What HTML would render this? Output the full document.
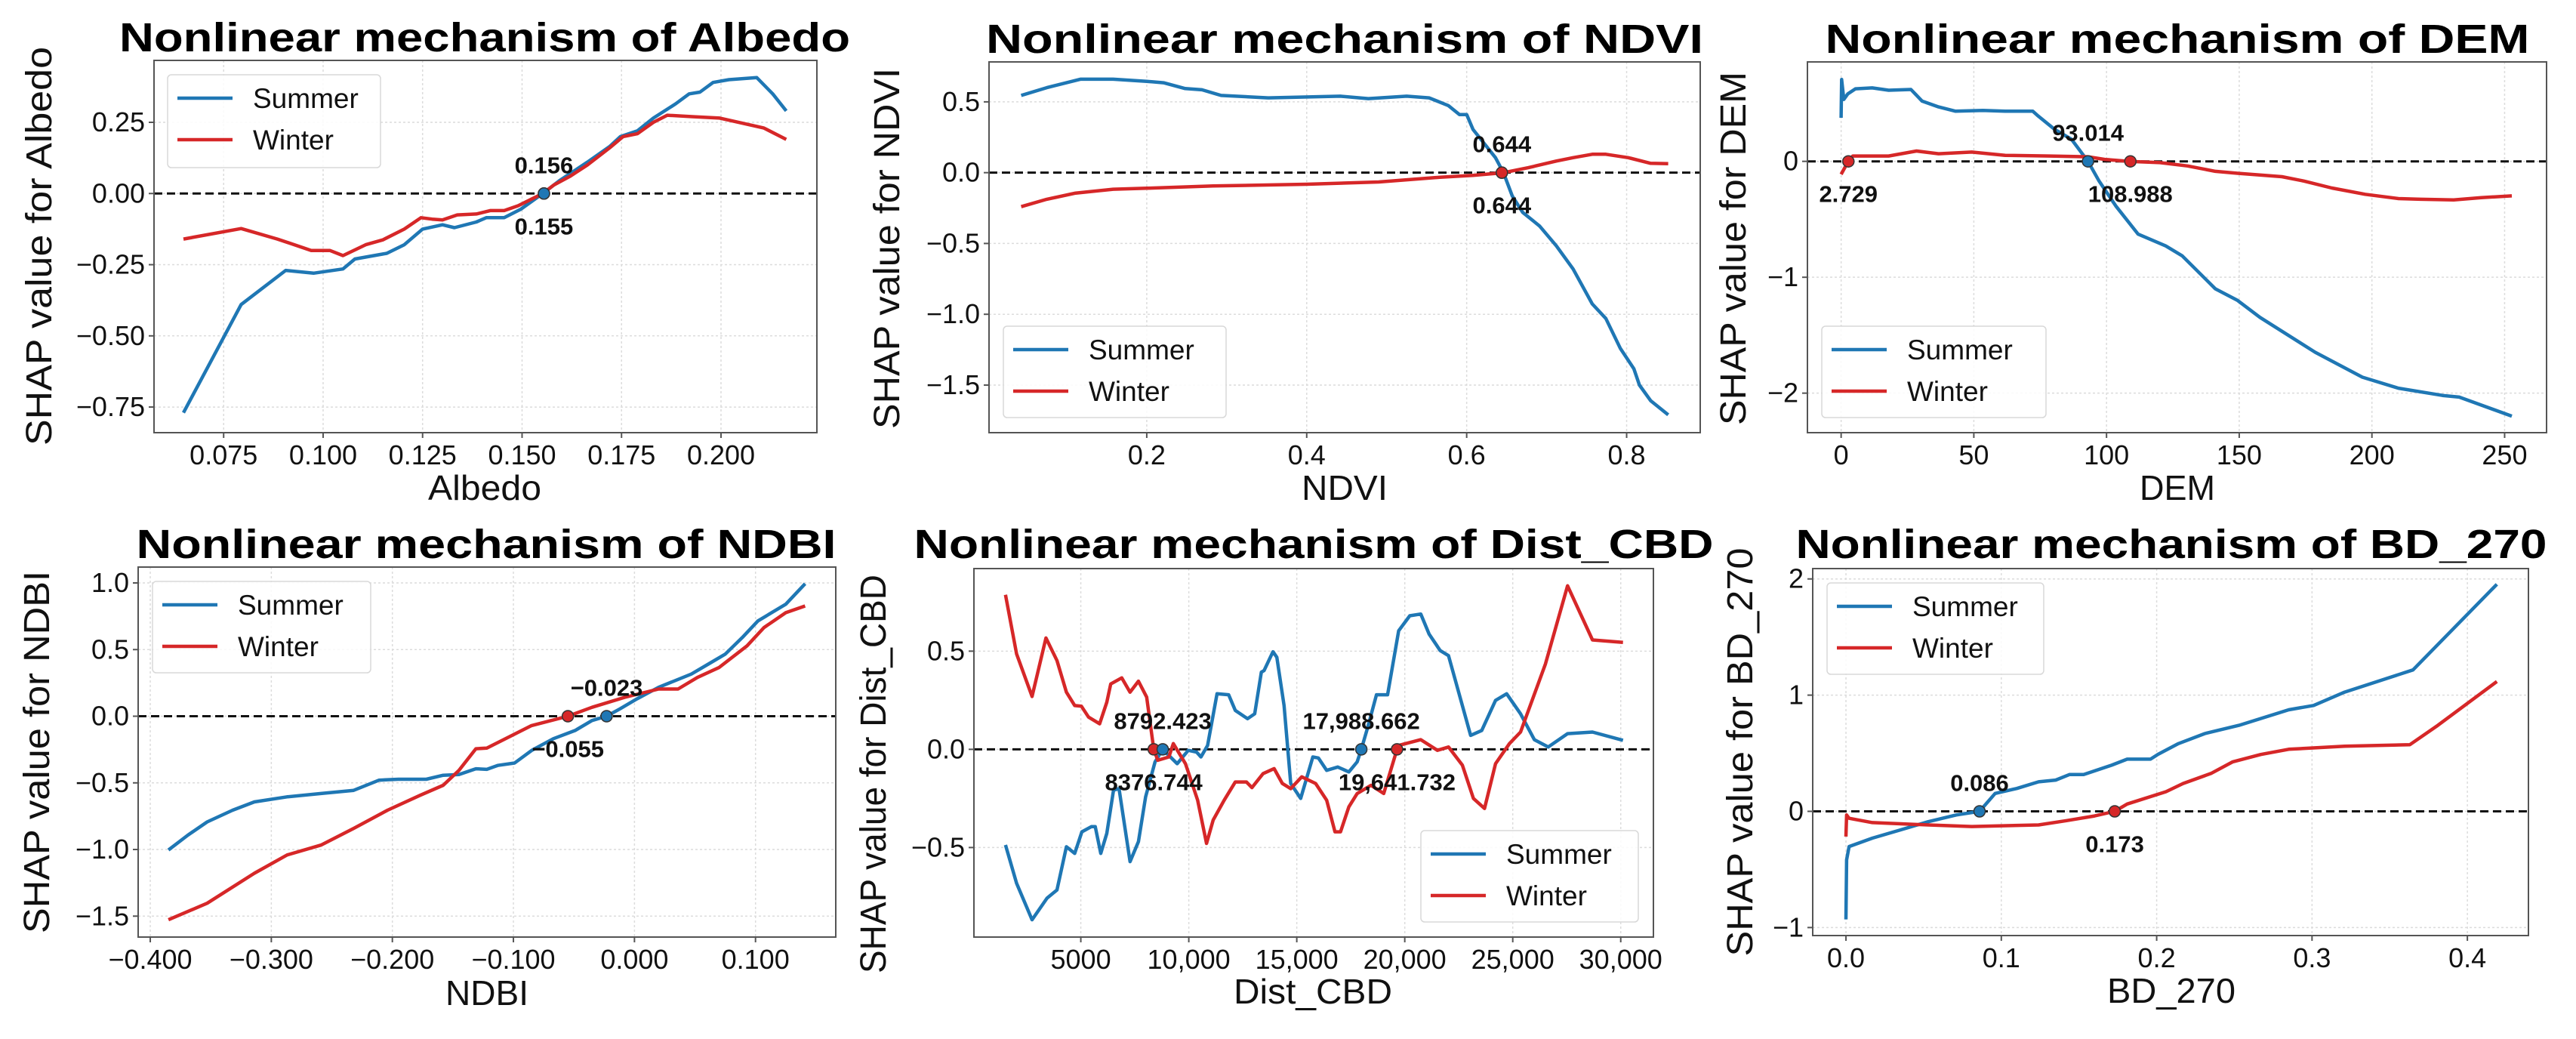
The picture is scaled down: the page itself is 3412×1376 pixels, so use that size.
<!DOCTYPE html>
<html><head><meta charset="utf-8"><style>
html,body{margin:0;padding:0;background:#fff;}
svg{display:block;}
text{font-family:"Liberation Sans",sans-serif;}
</style></head>
<body>
<svg id="fig" width="3412" height="1376" viewBox="0 0 3412 1376" xmlns="http://www.w3.org/2000/svg"></svg>
<script>
// ===== Data: Albedo =====
const albedoSummerX=[0.0649,0.0794,0.0906,0.0976,0.105,0.108,0.116,0.1204,0.125,0.130,0.133,0.1385,0.141,0.1455,0.1497,0.1552,0.1594,0.1664,0.172,0.1747,0.179,0.183,0.1886,0.192,0.1947,0.198,0.202,0.209,0.213,0.2164];
const albedoSummerY=[-0.77,-0.39,-0.27,-0.28,-0.265,-0.23,-0.21,-0.18,-0.125,-0.11,-0.12,-0.10,-0.085,-0.085,-0.055,0,0.045,0.11,0.165,0.2,0.22,0.265,0.315,0.35,0.356,0.39,0.40,0.407,0.35,0.29];
const albedoWinterX=[0.0649,0.0794,0.0885,0.097,0.1017,0.105,0.1107,0.115,0.1204,0.1246,0.1274,0.130,0.1337,0.1385,0.142,0.1455,0.149,0.1552,0.158,0.162,0.1664,0.172,0.1754,0.179,0.183,0.1865,0.1928,0.1997,0.2108,0.2164];
const albedoWinterY=[-0.16,-0.123,-0.16,-0.20,-0.20,-0.218,-0.18,-0.163,-0.125,-0.085,-0.09,-0.093,-0.075,-0.072,-0.06,-0.06,-0.043,0,0.03,0.06,0.1,0.16,0.2,0.21,0.25,0.275,0.27,0.265,0.23,0.19];
const albedoXTicks=[0.075,0.100,0.125,0.150,0.175,0.200];
const albedoXTickLabels=["0.075","0.100","0.125","0.150","0.175","0.200"];
const albedoYTicks=[-0.75,-0.5,-0.25,0,0.25];
const albedoYTickLabels=["\u22120.75","\u22120.50","\u22120.25","0.00","0.25"];
const albedoCrossX=[0.1555,0.1555];
const albedoCrossLabels=["0.156","0.155"];
// ===== Data: NDVI =====
const ndviSummerX=[0.043,0.075,0.117,0.158,0.2,0.221,0.248,0.269,0.293,0.352,0.387,0.442,0.477,0.525,0.553,0.577,0.591,0.6,0.608,0.636,0.646,0.657,0.67,0.691,0.712,0.733,0.757,0.774,0.792,0.809,0.816,0.83,0.852];
const ndviSummerY=[0.545,0.6,0.66,0.66,0.645,0.635,0.594,0.585,0.545,0.528,0.533,0.54,0.523,0.54,0.528,0.474,0.41,0.41,0.305,0.106,0,-0.164,-0.28,-0.376,-0.516,-0.68,-0.927,-1.03,-1.24,-1.385,-1.5,-1.61,-1.71];
const ndviWinterX=[0.043,0.075,0.11,0.158,0.2,0.283,0.4,0.49,0.56,0.608,0.646,0.677,0.712,0.733,0.757,0.774,0.802,0.83,0.852];
const ndviWinterY=[-0.24,-0.188,-0.145,-0.117,-0.11,-0.094,-0.082,-0.066,-0.035,-0.019,0,0.035,0.082,0.106,0.13,0.13,0.106,0.066,0.063];
const ndviXTicks=[0.2,0.4,0.6,0.8];
const ndviXTickLabels=["0.2","0.4","0.6","0.8"];
const ndviYTicks=[-1.5,-1.0,-0.5,0,0.5];
const ndviYTickLabels=["\u22121.5","\u22121.0","\u22120.5","0.0","0.5"];
const ndviCrossX=[0.644,0.644];
const ndviCrossLabels=["0.644","0.644"];
// ===== Data: DEM =====
const demSummerX=[0,0.2,1,2.5,5.4,11.7,17.9,26.3,30.5,36.7,43,53.4,61.8,72.2,74.3,80.5,86.8,93,97.2,103.5,111.9,122.3,128.5,141,149.4,157.8,178.6,196.4,210,226.6,232.9,252.7];
const demSummerY=[0.376,0.706,0.534,0.582,0.626,0.634,0.614,0.62,0.52,0.47,0.433,0.44,0.433,0.433,0.39,0.275,0.19,0,-0.17,-0.385,-0.628,-0.73,-0.815,-1.10,-1.2,-1.346,-1.647,-1.862,-1.957,-2.02,-2.034,-2.198];
const demWinterX=[0,2.7,4.4,11.7,17.9,28.4,36.7,49.2,61.8,78.5,93,99.3,108.7,120.2,130.6,141,149.4,166.1,174.4,184.9,197.4,210,218.3,230.8,241.2,252.7];
const demWinterY=[-0.112,0,0.046,0.046,0.046,0.089,0.066,0.08,0.052,0.046,0.04,0.017,0,-0.011,-0.04,-0.086,-0.103,-0.132,-0.17,-0.23,-0.284,-0.321,-0.327,-0.333,-0.313,-0.298];
const demXTicks=[0,50,100,150,200,250];
const demXTickLabels=["0","50","100","150","200","250"];
const demYTicks=[-2,-1,0];
const demYTickLabels=["\u22122","\u22121","0"];
const demCrossX=[2.729,93.014,108.988];
const demCrossLabels=["2.729","93.014","108.988"];
// ===== Data: NDBI =====
const ndbiSummerX=[-0.385,-0.369,-0.353,-0.332,-0.314,-0.287,-0.259,-0.232,-0.211,-0.195,-0.172,-0.158,-0.145,-0.131,-0.122,-0.113,-0.099,-0.085,-0.067,-0.049,-0.035,-0.023,-0.012,0.002,0.02,0.047,0.061,0.075,0.089,0.102,0.125,0.141];
const ndbiSummerY=[-1.004,-0.893,-0.793,-0.705,-0.643,-0.605,-0.58,-0.556,-0.48,-0.473,-0.473,-0.443,-0.438,-0.394,-0.399,-0.369,-0.351,-0.257,-0.169,-0.107,-0.032,0,0.055,0.13,0.217,0.316,0.391,0.466,0.59,0.715,0.84,0.994];
const ndbiWinterX=[-0.385,-0.353,-0.314,-0.287,-0.259,-0.232,-0.204,-0.177,-0.158,-0.145,-0.131,-0.122,-0.104,-0.085,-0.055,-0.035,-0.008,0.02,0.036,0.052,0.07,0.093,0.107,0.125,0.141];
const ndbiWinterY=[-1.527,-1.403,-1.178,-1.041,-0.967,-0.842,-0.705,-0.593,-0.518,-0.406,-0.244,-0.239,-0.157,-0.07,0,0.067,0.142,0.204,0.204,0.291,0.366,0.528,0.665,0.777,0.827];
const ndbiXTicks=[-0.4,-0.3,-0.2,-0.1,0,0.1];
const ndbiXTickLabels=["\u22120.400","\u22120.300","\u22120.200","\u22120.100","0.000","0.100"];
const ndbiYTicks=[-1.5,-1.0,-0.5,0,0.5,1.0];
const ndbiYTickLabels=["\u22121.5","\u22121.0","\u22120.5","0.0","0.5","1.0"];
const ndbiCrossX=[-0.023,-0.055];
const ndbiCrossLabels=["\u22120.023","\u22120.055"];
// ===== Data: Dist_CBD =====
const cbdSummerX=[1513,2026,2744,3436,3897,4333,4718,5051,5487,5667,5923,6205,6513,6769,7282,7667,8000,8436,8792,9462,9974,10359,10564,10872,11308,11846,12154,12718,13051,13359,13487,13897,14077,14410,14718,15179,15744,16000,16385,16897,17410,17795,17989,18308,18692,19205,19718,20231,20744,21128,21641,22026,23051,23564,24205,24718,25359,26000,26641,27538,28692,30103];
const cbdSummerY=[-0.487,-0.682,-0.868,-0.758,-0.716,-0.496,-0.53,-0.42,-0.394,-0.394,-0.53,-0.428,-0.208,-0.2,-0.572,-0.47,-0.242,-0.064,0,-0.073,-0.005,-0.014,-0.039,0.02,0.283,0.278,0.198,0.156,0.181,0.393,0.401,0.497,0.469,0.223,-0.174,-0.25,-0.039,-0.044,-0.107,-0.09,-0.115,-0.064,0,0.122,0.278,0.278,0.604,0.68,0.689,0.587,0.503,0.477,0.071,0.096,0.249,0.283,0.181,0.049,0.012,0.08,0.088,0.046];
const cbdWinterX=[1513,2026,2744,3385,3897,4333,4718,5026,5359,5872,6205,6385,6897,7282,7667,8051,8377,8564,9077,9282,9846,10410,10821,11128,11641,12154,12667,12923,13436,13949,14333,14718,15231,15872,16385,16769,17026,17410,17795,18436,19026,19642,19718,20744,21513,22026,22667,23179,23692,24205,24846,25359,26513,27538,28692,30103];
const cbdWinterY=[0.787,0.486,0.269,0.567,0.452,0.291,0.223,0.22,0.164,0.13,0.24,0.333,0.364,0.291,0.347,0.266,0,-0.056,-0.039,0.029,-0.073,-0.259,-0.479,-0.36,-0.259,-0.166,-0.166,-0.195,-0.124,-0.098,-0.174,-0.2,-0.14,-0.174,-0.259,-0.42,-0.42,-0.293,-0.225,-0.183,-0.225,0,0.02,0.049,-0.005,0.012,-0.081,-0.25,-0.301,-0.073,0.029,0.088,0.435,0.833,0.557,0.545];
const cbdXTicks=[5000,10000,15000,20000,25000,30000];
const cbdXTickLabels=["5000","10,000","15,000","20,000","25,000","30,000"];
const cbdYTicks=[-0.5,0,0.5];
const cbdYTickLabels=["\u22120.5","0.0","0.5"];
const cbdCrossX=[8376.744,8792.423,17988.662,19641.732];
const cbdCrossLabels=["8376.744","8792.423","17,988.662","19,641.732"];
// ===== Data: BD_270 =====
const bdSummerX=[0,0.0004,0.002,0.017,0.035,0.053,0.071,0.086,0.096,0.11,0.124,0.135,0.144,0.153,0.171,0.181,0.196,0.201,0.214,0.231,0.253,0.285,0.301,0.321,0.365,0.419];
const bdSummerY=[-0.93,-0.417,-0.303,-0.231,-0.16,-0.089,-0.031,0,0.154,0.197,0.254,0.269,0.317,0.317,0.397,0.449,0.449,0.491,0.583,0.669,0.74,0.874,0.911,1.026,1.217,1.954];
const bdWinterX=[0,0.0004,0.002,0.017,0.053,0.081,0.124,0.142,0.16,0.173,0.181,0.206,0.217,0.235,0.249,0.267,0.285,0.321,0.363,0.381,0.419];
const bdWinterY=[-0.217,-0.031,-0.06,-0.097,-0.117,-0.131,-0.117,-0.08,-0.04,0,0.063,0.169,0.24,0.326,0.426,0.489,0.534,0.56,0.574,0.74,1.117];
const bdXTicks=[0,0.1,0.2,0.3,0.4];
const bdXTickLabels=["0.0","0.1","0.2","0.3","0.4"];
const bdYTicks=[-1,0,1,2];
const bdYTickLabels=["\u22121","0","1","2"];
const bdCrossX=[0.086,0.173];
const bdCrossLabels=["0.086","0.173"];

const BLUE="#1f77b4", RED="#d62728";
const NS="http://www.w3.org/2000/svg";
const fig=document.getElementById("fig");
function el(tag,attrs,parent){const e=document.createElementNS(NS,tag);for(const k in attrs)e.setAttribute(k,attrs[k]);(parent||fig).appendChild(e);return e;}

const panels=[
 {key:"albedo",L:204,R:1082,T:80,B:573,x0:0.0575,x1:0.2241,y0:-0.84,y1:0.4675,
  sx:albedoSummerX,sy:albedoSummerY,wx:albedoWinterX,wy:albedoWinterY,
  xt:albedoXTicks,xtl:albedoXTickLabels,yt:albedoYTicks,ytl:albedoYTickLabels,
  cx:albedoCrossX,cl:albedoCrossLabels,cs:["winter","summer"],cp:["above","below"],
  title:"Nonlinear mechanism of Albedo",tx:642,tw:968,ty:68,
  xl:"Albedo",xlx:642,xly:662,xlw:150,yl:"SHAP value for Albedo",ylx:51,yly:326,yll:528,
  leg:[222,99,282,123]},
 {key:"ndvi",L:1310,R:2252,T:82,B:573,x0:0.0028,x1:0.892,y0:-1.836,y1:0.782,
  sx:ndviSummerX,sy:ndviSummerY,wx:ndviWinterX,wy:ndviWinterY,
  xt:ndviXTicks,xtl:ndviXTickLabels,yt:ndviYTicks,ytl:ndviYTickLabels,
  cx:ndviCrossX,cl:ndviCrossLabels,cs:["summer","winter"],cp:["above","below"],
  title:"Nonlinear mechanism of NDVI",tx:1781,tw:950,ty:70,
  xl:"NDVI",xlx:1781,xly:662,xlw:114,yl:"SHAP value for NDVI",ylx:1174,yly:329,yll:478,
  leg:[1329,432,295,121]},
 {key:"dem",L:2394,R:3373,T:82,B:573,x0:-12.7,x1:265.8,y0:-2.341,y1:0.858,
  sx:demSummerX,sy:demSummerY,wx:demWinterX,wy:demWinterY,
  xt:demXTicks,xtl:demXTickLabels,yt:demYTicks,ytl:demYTickLabels,
  cx:demCrossX,cl:demCrossLabels,cs:["winter","summer","winter"],cp:["below","above","below"],
  title:"Nonlinear mechanism of DEM",tx:2884,tw:933,ty:70,
  xl:"DEM",xlx:2884,xly:662,xlw:100,yl:"SHAP value for DEM",ylx:2295,yly:329,yll:468,
  leg:[2413,432,297,121]},
 {key:"ndbi",L:183,R:1107,T:751,B:1241,x0:-0.410,x1:0.1663,y0:-1.657,y1:1.119,
  sx:ndbiSummerX,sy:ndbiSummerY,wx:ndbiWinterX,wy:ndbiWinterY,
  xt:ndbiXTicks,xtl:ndbiXTickLabels,yt:ndbiYTicks,ytl:ndbiYTickLabels,
  cx:ndbiCrossX,cl:ndbiCrossLabels,cs:["summer","winter"],cp:["above","below"],
  title:"Nonlinear mechanism of NDBI",tx:644,tw:927,ty:739,
  xl:"NDBI",xlx:645,xly:1331,xlw:110,yl:"SHAP value for NDBI",ylx:48,yly:996,yll:480,
  leg:[202,770,289,121]},
 {key:"cbd",L:1290,R:2190,T:753,B:1241,x0:51,x1:31513,y0:-0.956,y1:0.9205,
  sx:cbdSummerX,sy:cbdSummerY,wx:cbdWinterX,wy:cbdWinterY,
  xt:cbdXTicks,xtl:cbdXTickLabels,yt:cbdYTicks,ytl:cbdYTickLabels,
  cx:cbdCrossX,cl:cbdCrossLabels,cs:["winter","summer","summer","winter"],cp:["below","above","above","below"],
  title:"Nonlinear mechanism of Dist_CBD",tx:1740,tw:1059,ty:739,
  xl:"Dist_CBD",xlx:1739,xly:1329,xlw:210,yl:"SHAP value for Dist_CBD",ylx:1156,yly:1025,yll:528,
  leg:[1882,1100,288,121]},
 {key:"bd270",L:2401,R:3349,T:753,B:1239,x0:-0.0214,x1:0.4393,y0:-1.069,y1:2.089,
  sx:bdSummerX,sy:bdSummerY,wx:bdWinterX,wy:bdWinterY,
  xt:bdXTicks,xtl:bdXTickLabels,yt:bdYTicks,ytl:bdYTickLabels,
  cx:bdCrossX,cl:bdCrossLabels,cs:["summer","winter"],cp:["above","below"],
  title:"Nonlinear mechanism of BD_270",tx:2876,tw:995,ty:739,
  xl:"BD_270",xlx:2876,xly:1328,xlw:170,yl:"SHAP value for BD_270",ylx:2304,yly:996,yll:541,
  leg:[2420,772,287,121]}
];

function interpY(xs,ys,x){
  for(let i=0;i<xs.length-1;i++){if(x>=xs[i]&&x<=xs[i+1]){const t=(x-xs[i])/((xs[i+1]-xs[i])||1);return ys[i]+t*(ys[i+1]-ys[i]);}}
  return 0;
}

panels.forEach(p=>{
  const X=v=>p.L+(v-p.x0)/(p.x1-p.x0)*(p.R-p.L);
  const Y=v=>p.B-(v-p.y0)/(p.y1-p.y0)*(p.B-p.T);
  const g=el("g",{});
  
  

  // grid
  p.xt.forEach(v=>{const l=el("line",{x1:X(v),x2:X(v),y1:p.T,y2:p.B,stroke:"#dcdcdc","stroke-width":1.5,"stroke-dasharray":"3,3"},g);
    
    });
  p.yt.forEach(v=>{const l=el("line",{x1:p.L,x2:p.R,y1:Y(v),y2:Y(v),stroke:"#dcdcdc","stroke-width":1.5,"stroke-dasharray":"3,3"},g);
    
    });

  // zero line
  const z=el("line",{x1:p.L,x2:p.R,y1:Y(0),y2:Y(0),stroke:"#111","stroke-width":3,"stroke-dasharray":"11,6"},g);
  
  

  // series
  const mkLine=(xs,ys,col,name)=>{
    const d=xs.map((v,i)=>(i?"L":"M")+X(v).toFixed(1)+","+Y(ys[i]).toFixed(1)).join(" ");
    const pa=el("path",{d:d,fill:"none",stroke:col,"stroke-width":4.5,"stroke-linejoin":"round"},g);
    
    
  };
  mkLine(p.sx,p.sy,BLUE,"summer-line");
  mkLine(p.wx,p.wy,RED,"winter-line");

  // crossings
  p.cx.forEach((v,i)=>{
    const col=p.cs[i]==="summer"?BLUE:RED;
    const cy=Y(0);
    const c=el("circle",{cx:X(v),cy:cy,r:7.5,fill:col,stroke:"#333","stroke-width":1.5},g);
    
    
    const t=el("text",{x:X(v),y:p.cp[i]==="above"?cy-27:cy+54,"text-anchor":"middle","font-size":31,"font-weight":"bold",fill:"#111"},g);
    t.textContent=p.cl[i];
    
    
  });

  // spines
  const r=el("rect",{x:p.L,y:p.T,width:p.R-p.L,height:p.B-p.T,fill:"none",stroke:"#555","stroke-width":2},g);
  
  

  // ticks
  p.xt.forEach((v,i)=>{
    el("line",{x1:X(v),x2:X(v),y1:p.B,y2:p.B+7,stroke:"#555","stroke-width":2},g);
    const t=el("text",{x:X(v),y:p.B+42,"text-anchor":"middle","font-size":36,fill:"#111"},g);
    t.textContent=p.xtl[i];
    
    
  });
  p.yt.forEach((v,i)=>{
    el("line",{x1:p.L-7,x2:p.L,y1:Y(v),y2:Y(v),stroke:"#555","stroke-width":2},g);
    const t=el("text",{x:p.L-12,y:Y(v)+12,"text-anchor":"end","font-size":36,fill:"#111"},g);
    t.textContent=p.ytl[i];
    
    
  });

  // title
  const ti=el("text",{x:p.tx,y:p.ty,"text-anchor":"middle","font-size":54,"font-weight":"bold",fill:"#000",textLength:p.tw,lengthAdjust:"spacingAndGlyphs"},g);
  ti.textContent=p.title;
  
  

  // x label
  const xl=el("text",{x:p.xlx,y:p.xly,"text-anchor":"middle","font-size":46,fill:"#111",textLength:p.xlw,lengthAdjust:"spacingAndGlyphs"},g);
  xl.textContent=p.xl;
  
  

  // y label
  const yl=el("text",{x:0,y:0,"text-anchor":"middle","font-size":48,fill:"#111",textLength:p.yll,lengthAdjust:"spacingAndGlyphs",transform:"translate("+(p.ylx+17)+","+p.yly+") rotate(-90)"},g);
  yl.textContent=p.yl;
  
  

  // legend
  const [lx,ly,lw,lh]=p.leg;
  const lg=el("g",{},g);
  
  
  el("rect",{x:lx,y:ly,width:lw,height:lh,rx:5,fill:"#fff","fill-opacity":0.85,stroke:"#d8d8d8","stroke-width":1.5},lg);
  [["Summer",BLUE,31],["Winter",RED,86]].forEach(([name,col,dy])=>{
    const e=el("g",{},lg);
    
    
    el("line",{x1:lx+13,x2:lx+86,y1:ly+dy,y2:ly+dy,stroke:col,"stroke-width":4.5},e);
    const t=el("text",{x:lx+113,y:ly+dy+13,"font-size":37,fill:"#111"},e);
    t.textContent=name;
  });
});
</script>
</body></html>
